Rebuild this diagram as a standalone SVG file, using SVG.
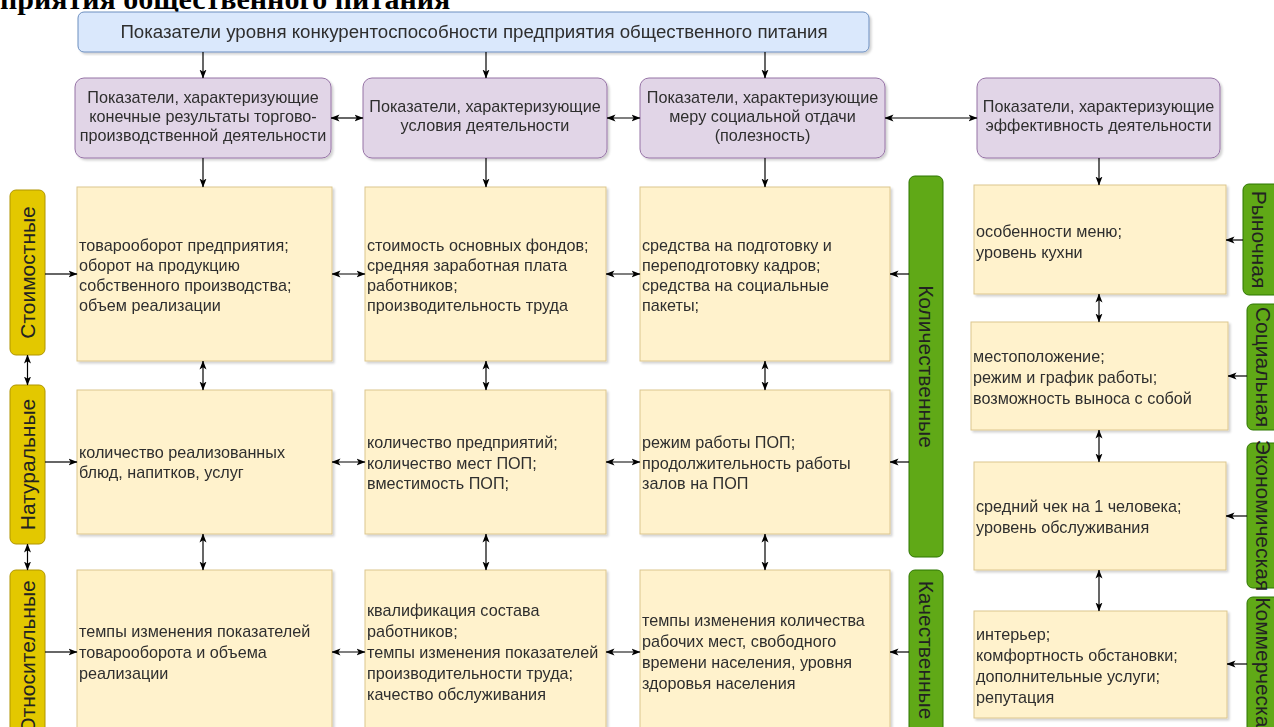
<svg xmlns="http://www.w3.org/2000/svg" width="1274" height="727" viewBox="0 0 1274 727">
<defs>
<marker id="arr" viewBox="0 0 9 8" markerWidth="9" markerHeight="8" refX="8.5" refY="4" orient="auto-start-reverse" markerUnits="userSpaceOnUse">
<path d="M0,0.5 L9,4 L0,7.5 L2.2,4 Z" fill="#000"/>
</marker>
<filter id="sh" x="-5%" y="-5%" width="115%" height="115%">
<feDropShadow dx="2" dy="2" stdDeviation="1.2" flood-color="#000" flood-opacity="0.18"/>
</filter>
</defs>
<style>
.blue{fill:#dae8fc;stroke:#6c8ebf;stroke-width:1}
.purp{fill:#e1d5e7;stroke:#9673a6;stroke-width:1}
.yel{fill:#fff2cc;stroke:#dcc68e;stroke-width:1}
.ylab{fill:#e3c800;stroke:#b09500;stroke-width:1}
.glab{fill:#60a917;stroke:#2d7600;stroke-width:1}
text{font-family:"Liberation Sans",Arial,sans-serif;fill:#2e2e2e}
.t{font-size:16.2px}
.c{text-anchor:middle}
.lab{font-size:21px;text-anchor:middle;fill:#222}
.title{font-family:"Liberation Serif","Times New Roman",serif;font-weight:bold;font-size:30px;fill:#000}
.con line{stroke:#000;stroke-width:1.2;fill:none}
.one{marker-end:url(#arr)}
.two{marker-start:url(#arr);marker-end:url(#arr)}
</style>
<rect width="1274" height="727" fill="#fff"/>
<text class="title" x="0" y="9">приятия общественного питания</text>

<g id="n-top" filter="url(#sh)"><rect class="blue" x="78" y="12" width="791" height="40" rx="6"/>
<text class="c" x="474" y="38" style="font-size:18.7px">Показатели уровня конкурентоспособности предприятия общественного питания</text></g>

<g id="p1" filter="url(#sh)"><rect class="purp" x="75" y="78" width="256" height="80" rx="9"/>
<text class="t c"><tspan x="203" y="103">Показатели, характеризующие</tspan><tspan x="203" y="122">конечные результаты торгово-</tspan><tspan x="203" y="141">производственной деятельности</tspan></text></g>
<g id="p2" filter="url(#sh)"><rect class="purp" x="363" y="78" width="244" height="80" rx="9"/>
<text class="t c"><tspan x="485" y="112">Показатели, характеризующие</tspan><tspan x="485" y="131">условия деятельности</tspan></text></g>
<g id="p3" filter="url(#sh)"><rect class="purp" x="640" y="78" width="245" height="80" rx="9"/>
<text class="t c"><tspan x="762.5" y="103">Показатели, характеризующие</tspan><tspan x="762.5" y="122">меру социальной отдачи</tspan><tspan x="762.5" y="141">(полезность)</tspan></text></g>
<g id="p4" filter="url(#sh)"><rect class="purp" x="977" y="78" width="243" height="80" rx="9"/>
<text class="t c"><tspan x="1098.5" y="112">Показатели, характеризующие</tspan><tspan x="1098.5" y="131">эффективность деятельности</tspan></text></g>

<g id="y11" filter="url(#sh)"><rect class="yel" x="77" y="187" width="255" height="174"/>
<text class="t"><tspan x="79" y="251">товарооборот предприятия;</tspan><tspan x="79" y="271">оборот на продукцию</tspan><tspan x="79" y="291">собственного производства;</tspan><tspan x="79" y="311">объем реализации</tspan></text></g>
<g id="y12" filter="url(#sh)"><rect class="yel" x="365" y="187" width="241" height="174"/>
<text class="t"><tspan x="367" y="251">стоимость основных фондов;</tspan><tspan x="367" y="271">средняя заработная плата</tspan><tspan x="367" y="291">работников;</tspan><tspan x="367" y="311">производительность труда</tspan></text></g>
<g id="y13" filter="url(#sh)"><rect class="yel" x="640" y="187" width="250" height="174"/>
<text class="t"><tspan x="642" y="251">средства на подготовку и</tspan><tspan x="642" y="271">переподготовку кадров;</tspan><tspan x="642" y="291">средства на социальные</tspan><tspan x="642" y="311">пакеты;</tspan></text></g>

<g id="y21" filter="url(#sh)"><rect class="yel" x="77" y="390" width="255" height="144"/>
<text class="t"><tspan x="79" y="458">количество реализованных</tspan><tspan x="79" y="478">блюд, напитков, услуг</tspan></text></g>
<g id="y22" filter="url(#sh)"><rect class="yel" x="365" y="390" width="241" height="144"/>
<text class="t"><tspan x="367" y="448">количество предприятий;</tspan><tspan x="367" y="468.5">количество мест ПОП;</tspan><tspan x="367" y="489">вместимость ПОП;</tspan></text></g>
<g id="y23" filter="url(#sh)"><rect class="yel" x="640" y="390" width="250" height="144"/>
<text class="t"><tspan x="642" y="448">режим работы ПОП;</tspan><tspan x="642" y="468.5">продолжительность работы</tspan><tspan x="642" y="489">залов на ПОП</tspan></text></g>

<g id="y31" filter="url(#sh)"><rect class="yel" x="77" y="570" width="255" height="175"/>
<text class="t"><tspan x="79" y="637">темпы изменения показателей</tspan><tspan x="79" y="658">товарооборота и объема</tspan><tspan x="79" y="679">реализации</tspan></text></g>
<g id="y32" filter="url(#sh)"><rect class="yel" x="365" y="570" width="241" height="175"/>
<text class="t"><tspan x="367" y="616">квалификация состава</tspan><tspan x="367" y="637">работников;</tspan><tspan x="367" y="658">темпы изменения показателей</tspan><tspan x="367" y="679">производительности труда;</tspan><tspan x="367" y="700">качество обслуживания</tspan></text></g>
<g id="y33" filter="url(#sh)"><rect class="yel" x="640" y="570" width="250" height="175"/>
<text class="t"><tspan x="642" y="626">темпы изменения количества</tspan><tspan x="642" y="647">рабочих мест, свободного</tspan><tspan x="642" y="668">времени населения, уровня</tspan><tspan x="642" y="689">здоровья населения</tspan></text></g>

<g id="r1" filter="url(#sh)"><rect class="yel" x="974" y="185" width="252" height="109"/>
<text class="t"><tspan x="976" y="237">особенности меню;</tspan><tspan x="976" y="258">уровень кухни</tspan></text></g>
<g id="r2" filter="url(#sh)"><rect class="yel" x="971" y="322" width="257" height="108"/>
<text class="t"><tspan x="973" y="362">местоположение;</tspan><tspan x="973" y="383">режим и график работы;</tspan><tspan x="973" y="404">возможность выноса с собой</tspan></text></g>
<g id="r3" filter="url(#sh)"><rect class="yel" x="974" y="462" width="252" height="108"/>
<text class="t"><tspan x="976" y="512">средний чек на 1 человека;</tspan><tspan x="976" y="533">уровень обслуживания</tspan></text></g>
<g id="r4" filter="url(#sh)"><rect class="yel" x="974" y="611" width="253" height="107"/>
<text class="t"><tspan x="976" y="640">интерьер;</tspan><tspan x="976" y="661">комфортность обстановки;</tspan><tspan x="976" y="682">дополнительные услуги;</tspan><tspan x="976" y="703">репутация</tspan></text></g>

<g id="l-stoim"><rect class="ylab" x="10" y="190" width="35" height="165" rx="6"/>
<text class="lab" transform="translate(35,272.5) rotate(-90)">Стоимостные</text></g>
<g id="l-nat"><rect class="ylab" x="10" y="385" width="35" height="159" rx="6"/>
<text class="lab" transform="translate(35,464.5) rotate(-90)">Натуральные</text></g>
<g id="l-otn"><rect class="ylab" x="10" y="570" width="35" height="175" rx="6"/>
<text class="lab" transform="translate(35,657) rotate(-90)">Относительные</text></g>

<g id="g-kol"><rect class="glab" x="909" y="176" width="34" height="381" rx="6"/>
<text class="lab" transform="translate(918.5,366.5) rotate(90)">Количественные</text></g>
<g id="g-kach"><rect class="glab" x="909" y="570" width="34" height="175" rx="6"/>
<text class="lab" transform="translate(918.5,650) rotate(90)">Качественные</text></g>

<g id="g-ryn"><rect class="glab" x="1243" y="184" width="40" height="111" rx="6"/>
<text class="lab" transform="translate(1252,239.5) rotate(90)">Рыночная</text></g>
<g id="g-soc"><rect class="glab" x="1247" y="304" width="40" height="126" rx="6"/>
<text class="lab" transform="translate(1256,367) rotate(90)">Социальная</text></g>
<g id="g-eco"><rect class="glab" x="1247" y="443" width="40" height="145" rx="6"/>
<text class="lab" transform="translate(1256,515.5) rotate(90)">Экономическая</text></g>
<g id="g-kom"><rect class="glab" x="1247" y="597" width="40" height="150" rx="6"/>
<text class="lab" transform="translate(1256,668) rotate(90)">Коммерческая</text></g>

<g id="connectors" class="con">
<line class="one" x1="203" y1="52" x2="203" y2="78"/>
<line class="one" x1="486" y1="52" x2="486" y2="78"/>
<line class="one" x1="765" y1="52" x2="765" y2="78"/>
<line class="two" x1="331" y1="118" x2="363" y2="118"/>
<line class="two" x1="607" y1="118" x2="640" y2="118"/>
<line class="two" x1="885" y1="118" x2="977" y2="118"/>
<line class="one" x1="203" y1="158" x2="203" y2="187"/>
<line class="one" x1="486" y1="158" x2="486" y2="187"/>
<line class="one" x1="765" y1="158" x2="765" y2="187"/>
<line class="one" x1="1099" y1="158" x2="1099" y2="185"/>
<line class="two" x1="203" y1="361" x2="203" y2="390"/>
<line class="two" x1="486" y1="361" x2="486" y2="390"/>
<line class="two" x1="765" y1="361" x2="765" y2="390"/>
<line class="two" x1="203" y1="534" x2="203" y2="570"/>
<line class="two" x1="486" y1="534" x2="486" y2="570"/>
<line class="two" x1="765" y1="534" x2="765" y2="570"/>
<line class="two" x1="332" y1="274" x2="365" y2="274"/>
<line class="two" x1="332" y1="462" x2="365" y2="462"/>
<line class="two" x1="332" y1="652" x2="365" y2="652"/>
<line class="two" x1="606" y1="274" x2="640" y2="274"/>
<line class="two" x1="606" y1="462" x2="640" y2="462"/>
<line class="two" x1="606" y1="652" x2="640" y2="652"/>
<line class="one" x1="45" y1="274" x2="77" y2="274"/>
<line class="one" x1="45" y1="462" x2="77" y2="462"/>
<line class="one" x1="45" y1="652" x2="77" y2="652"/>
<line class="two" x1="27.5" y1="355" x2="27.5" y2="385"/>
<line class="two" x1="27.5" y1="544" x2="27.5" y2="570"/>
<line class="one" x1="909" y1="274" x2="890" y2="274"/>
<line class="one" x1="909" y1="462" x2="890" y2="462"/>
<line class="one" x1="909" y1="652" x2="890" y2="652"/>
<line class="one" x1="1243" y1="240" x2="1226" y2="240"/>
<line class="one" x1="1247" y1="376" x2="1228" y2="376"/>
<line class="one" x1="1247" y1="516" x2="1226" y2="516"/>
<line class="one" x1="1247" y1="664" x2="1227" y2="664"/>
<line class="two" x1="1099" y1="294" x2="1099" y2="322"/>
<line class="two" x1="1099" y1="430" x2="1099" y2="462"/>
<line class="two" x1="1099" y1="570" x2="1099" y2="611"/>
</g>
</svg>
